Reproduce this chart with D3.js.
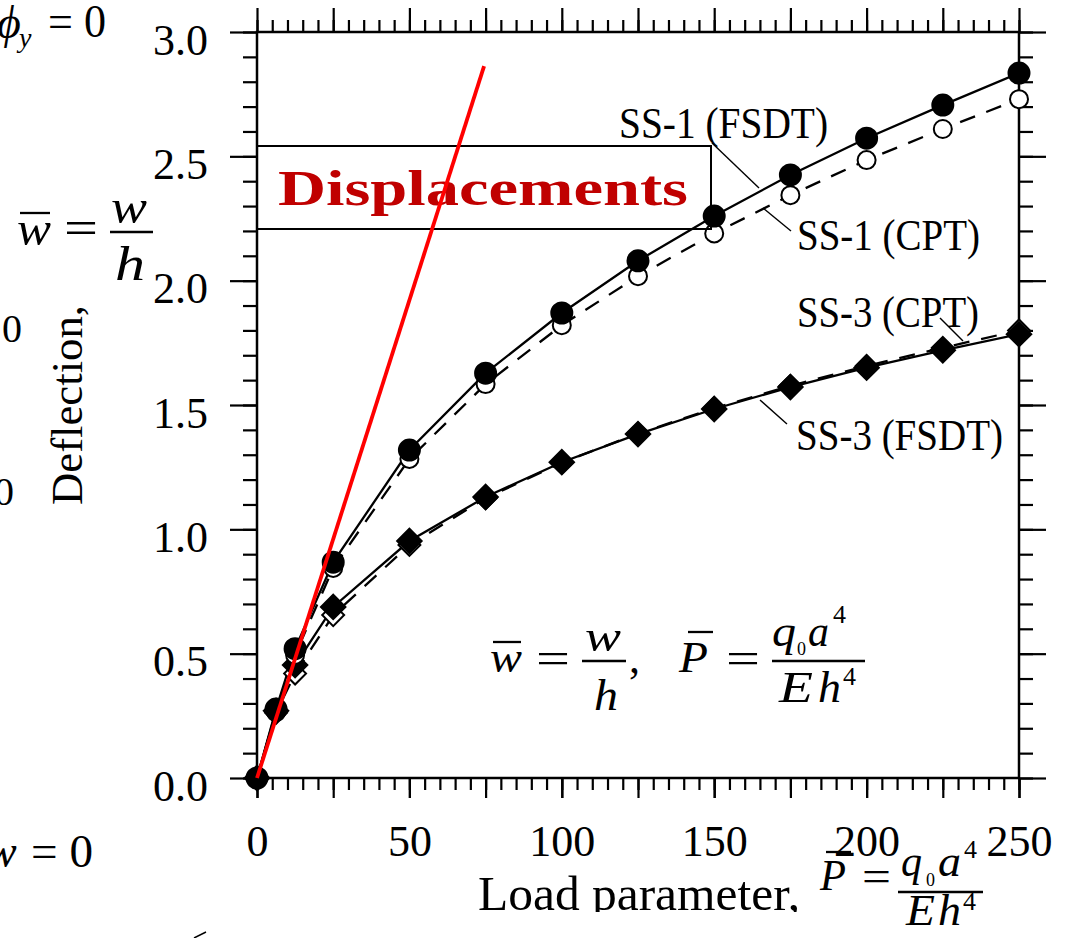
<!DOCTYPE html>
<html><head><meta charset="utf-8">
<script src="https://cdn.jsdelivr.net/npm/d3@7"></script>
<style>
body{margin:0;background:#fff}
svg{display:block}
text{font-family:"Liberation Serif","Times New Roman",serif;fill:#000}
</style>
</head><body>
<svg id="c" width="1067" height="938"></svg>
<script>
// ---------- data ----------
const loads   = [0, 6.25, 12.5, 25, 50, 75, 100, 125, 150, 175, 200, 225, 250];
const ss1FSDT = [0, 0.277, 0.52, 0.868, 1.319, 1.628, 1.87, 2.08, 2.26, 2.425, 2.573, 2.706, 2.835];
const ss1CPT  = [0, 0.265, 0.495, 0.845, 1.283, 1.584, 1.821, 2.018, 2.19, 2.344, 2.485, 2.61, 2.73];
const ss3FSDT = [0, 0.27, 0.454, 0.688, 0.953, 1.13, 1.27, 1.383, 1.484, 1.572, 1.65, 1.72, 1.785];
const ss3CPT  = [0, 0.262, 0.42, 0.655, 0.937, 1.125, 1.268, 1.385, 1.487, 1.577, 1.657, 1.73, 1.80];
const linearP = [0, 74.5];
const linearW = [0, 2.863];
const xTickLabels = [0, 50, 100, 150, 200, 250];
const yTickLabels = [0, 0.5, 1.0, 1.5, 2.0, 2.5, 3.0];
const xMinor = d3.range(0, 251, 5);
const xMajor = d3.range(0, 251, 25);
const yMinor = d3.range(0, 31).map(i => i / 10);

// ---------- layout ----------
const L = 257, R = 1019, T = 32, B = 778;
const svg = d3.select('#c');
const x = d3.scaleLinear().domain([0, 250]).range([L, R]);
const y = d3.scaleLinear().domain([0, 3]).range([B, T]);

function styleAxis(g) {
  g.select('.domain').remove();
  g.selectAll('line').attr('stroke', '#000').attr('stroke-width', 2.2);
  g.selectAll('text').attr('font-family', '"Liberation Serif",serif').attr('font-size', 44).attr('fill', '#000');
}
// bottom
svg.append('g').attr('transform', `translate(0,${B})`)
  .call(d3.axisBottom(x).tickValues(xMinor).tickSize(12).tickFormat('')).call(styleAxis);
svg.append('g').attr('transform', `translate(0,${B})`)
  .call(d3.axisBottom(x).tickValues(xMajor).tickSize(20).tickFormat('')).call(styleAxis);
svg.append('g').attr('transform', `translate(0,${B})`)
  .call(d3.axisBottom(x).tickValues(xTickLabels).tickSize(20).tickPadding(27).tickFormat(d3.format('d'))).call(styleAxis);
// top
svg.append('g').attr('transform', `translate(0,${T})`)
  .call(d3.axisTop(x).tickValues(xMinor).tickSize(12).tickFormat('')).call(styleAxis);
svg.append('g').attr('transform', `translate(0,${T})`)
  .call(d3.axisTop(x).tickValues(xMajor).tickSize(24).tickFormat('')).call(styleAxis);
// left
svg.append('g').attr('transform', `translate(${L},0)`)
  .call(d3.axisLeft(y).tickValues(yMinor).tickSize(14).tickFormat('')).call(styleAxis);
const yl = svg.append('g').attr('transform', `translate(${L},0)`)
  .call(d3.axisLeft(y).tickValues(yTickLabels).tickSize(27).tickPadding(22).tickFormat(d3.format('.1f'))).call(styleAxis);
yl.selectAll('text').attr('dy', '0.5em');
// right
svg.append('g').attr('transform', `translate(${R},0)`)
  .call(d3.axisRight(y).tickValues(yMinor).tickSize(14).tickFormat('')).call(styleAxis);
svg.append('g').attr('transform', `translate(${R},0)`)
  .call(d3.axisRight(y).tickValues(yTickLabels).tickSize(27).tickFormat('')).call(styleAxis);

// frame
svg.append('rect').attr('x', L).attr('y', T).attr('width', R - L).attr('height', B - T)
  .attr('fill', 'none').attr('stroke', '#000').attr('stroke-width', 2.5);

// ---------- series ----------
const line = d3.line().x(d => x(d[0])).y(d => y(d[1]));
const pts = vals => loads.map((p, i) => [p, vals[i]]);
const series = [
  {v: ss3CPT,  dash: '16,12', marker: 'diamond', fill: '#fff'},
  {v: ss3FSDT, dash: null,    marker: 'diamond', fill: '#000'},
  {v: ss1CPT,  dash: '16,12', marker: 'circle',  fill: '#fff'},
  {v: ss1FSDT, dash: null,    marker: 'circle',  fill: '#000'}
];
series.forEach(s => {
  svg.append('path').datum(pts(s.v)).attr('d', line)
    .attr('fill', 'none').attr('stroke', '#000').attr('stroke-width', 2.3)
    .attr('stroke-dasharray', s.dash);
});
series.forEach(s => {
  const g = svg.append('g');
  if (s.marker === 'circle') {
    g.selectAll('circle').data(pts(s.v)).join('circle')
      .attr('cx', d => x(d[0])).attr('cy', d => y(d[1]))
      .attr('r', s.fill === '#000' ? 10.5 : 9)
      .attr('fill', s.fill).attr('stroke', '#000').attr('stroke-width', 2);
  } else {
    const sym = d3.symbol().type(d3.symbolSquare).size(s.fill === '#000' ? 300 : 240);
    g.selectAll('path').data(pts(s.v)).join('path')
      .attr('d', sym)
      .attr('transform', d => `translate(${x(d[0])},${y(d[1])}) rotate(45)`)
      .attr('fill', s.fill).attr('stroke', '#000').attr('stroke-width', 2);
  }
});

// ---------- box ----------
svg.append('rect').attr('x', 257).attr('y', 146).attr('width', 454).attr('height', 83)
  .attr('fill', 'none').attr('stroke', '#000').attr('stroke-width', 2);
svg.append('text').attr('x', 278).attr('y', 205).attr('font-size', 50).attr('font-weight', 'bold')
  .attr('textLength', 410).attr('lengthAdjust', 'spacingAndGlyphs')
  .style('fill', '#c00000').text('Displacements');

// red linear line
svg.append('path').datum(linearP.map((p, i) => [p, linearW[i]])).attr('d', line)
  .attr('fill', 'none').attr('stroke', '#ff0000').attr('stroke-width', 3.8);

// ---------- text helpers ----------
function txt(px, py, s, o = {}) {
  const t = svg.append('text').attr('x', px).attr('y', py).attr('font-size', o.size || 44)
    .attr('text-anchor', o.anchor || 'start').text(s);
  if (o.italic) t.attr('font-style', 'italic');
  if (o.len) t.attr('textLength', o.len).attr('lengthAdjust', 'spacingAndGlyphs');
  return t;
}
function bar(x1, x2, yy, w = 2.3) {
  svg.append('line').attr('x1', x1).attr('x2', x2).attr('y1', yy).attr('y2', yy)
    .attr('stroke', '#000').attr('stroke-width', w);
}
function leader(x1, y1, x2, y2) {
  svg.append('line').attr('x1', x1).attr('y1', y1).attr('x2', x2).attr('y2', y2)
    .attr('stroke', '#000').attr('stroke-width', 1.4);
}

// series labels
txt(619, 138, 'SS-1 (FSDT)', {len: 209});
txt(797, 250, 'SS-1 (CPT)', {len: 183});
txt(797, 327, 'SS-3 (CPT)', {len: 182});
txt(796, 450, 'SS-3 (FSDT)', {len: 207});
leader(712, 143, 759, 188);
leader(763, 208, 791, 231);
leader(940, 318, 963, 341);
leader(760, 400, 787, 424);

// in-plot formula
txt(490, 672, 'w', {italic: true, len: 32});
bar(493, 521, 642);
txt(536, 673, '=', {len: 34});
txt(585, 651, 'w', {italic: true, len: 36});
bar(582, 626, 661);
txt(594, 710, 'h', {italic: true, len: 24});
txt(629, 673, ',');
txt(679, 672, 'P', {italic: true, len: 29});
bar(688, 713, 632);
txt(726, 673, '=', {len: 34});
txt(772, 646, 'q', {italic: true, len: 24});
txt(797, 655, '0', {size: 18});
txt(808, 646, 'a', {italic: true, len: 21});
txt(833, 623, '4', {size: 26});
bar(772, 865, 661);
txt(779, 702, 'E', {italic: true, len: 34});
txt(818, 702, 'h', {italic: true, len: 23});
txt(843, 685, '4', {size: 26});

// y axis label
svg.append('text').attr('transform', 'translate(82,505) rotate(-90)')
  .attr('font-size', 44).attr('textLength', 200).attr('lengthAdjust', 'spacingAndGlyphs')
  .text('Deflection,');
txt(17, 245, 'w', {italic: true, size: 48, len: 34});
bar(20, 50, 213);
txt(64, 244, '=', {size: 48, len: 34});
txt(111, 223, 'w', {italic: true, size: 48, len: 36});
bar(110, 153, 232);
txt(115, 280, 'h', {italic: true, size: 48, len: 30});

// x axis label (clipped at bottom like the reference)
svg.append('defs').append('clipPath').attr('id', 'xclip')
  .append('rect').attr('x', 0).attr('y', 0).attr('width', 1067).attr('height', 912);
txt(478, 910, 'Load parameter,', {size: 48, len: 322}).attr('clip-path', 'url(#xclip)');
txt(820, 890, 'P', {italic: true, len: 26});
bar(826, 851, 852);
txt(862, 891, '=', {len: 29});
txt(901, 876, 'q', {italic: true, len: 21});
txt(926, 886, '0', {size: 18});
txt(938, 876, 'a', {italic: true, len: 23});
txt(964, 858, '4', {size: 26});
bar(898, 983, 892);
txt(906, 925, 'E', {italic: true, len: 29});
txt(938, 925, 'h', {italic: true, len: 23});
txt(963, 910, '4', {size: 26});

// cropped fragments at the left edge
txt(-3, 38, 'ϕ', {italic: true, size: 46});
txt(19, 47, 'y', {italic: true, size: 28});
txt(48, 37, '= 0', {size: 46, len: 58});
txt(2, 342, '0', {size: 40});
txt(-6, 505, '0', {size: 40});
txt(-14, 867, 'w', {italic: true, size: 46});
txt(31, 867, '= 0', {size: 46, len: 62});
svg.append('line').attr('x1', 194).attr('y1', 938).attr('x2', 206).attr('y2', 932)
  .attr('stroke', '#000').attr('stroke-width', 1.5);
</script>
</body></html>
